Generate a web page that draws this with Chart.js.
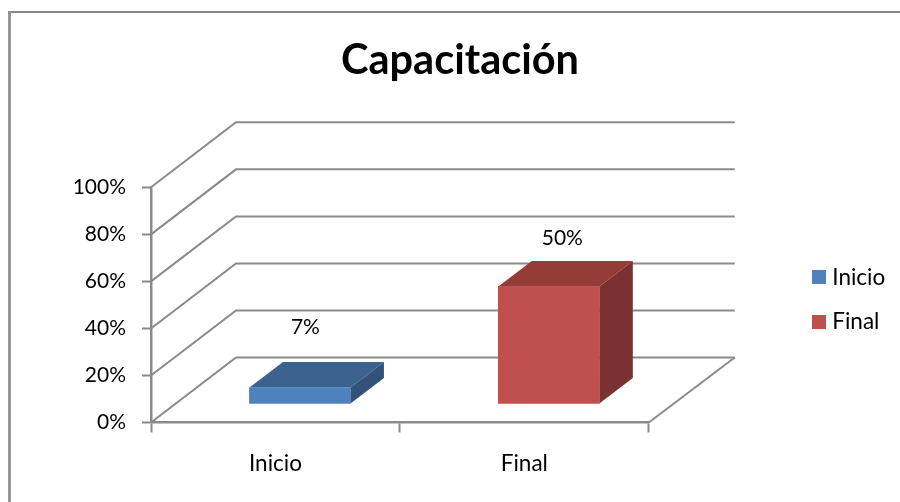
<!DOCTYPE html>
<html>
<head>
<meta charset="utf-8">
<title>Capacitación</title>
<script src="https://cdn.jsdelivr.net/npm/chart.js@4"></script>
<style>
    html, body { margin: 0; padding: 0; background: #fff; }
    canvas { display: block; }
</style>
</head>
<body>
<canvas id="chart" width="900" height="502"></canvas>
<script>
const categories = ["Inicio", "Final"];
const values = [7, 50];
const yTicks = [0, 20, 40, 60, 80, 100];

const frontColors = ["#4f81bd", "#c0504d"];
const topColors = ["#3c628f", "#953c39"];
const sideColors = ["#32527a", "#7b3130"];
const gridColor = "#8a8a8a";
const fontName = "Lato, Carlito, sans-serif";

// depth of the box the chart sits in, and of the bars inside it
const wallDepth = { x: 85, y: -65 };
const barDepth = { x: 33.5, y: -25.5 };
const barShift = { x: 24.5, y: -18.5 };
const labelShift = [{ x: 30, y: -79 }, { x: 38, y: -66.5 }];

function line(ctx, points) {
    ctx.beginPath();
    points.forEach((p, i) => i ? ctx.lineTo(p[0], p[1]) : ctx.moveTo(p[0], p[1]));
    ctx.stroke();
}

function face(ctx, points, color) {
    ctx.fillStyle = color;
    ctx.beginPath();
    points.forEach((p, i) => i ? ctx.lineTo(p[0], p[1]) : ctx.moveTo(p[0], p[1]));
    ctx.closePath();
    ctx.fill();
}

// legend swatch as an image, so the gap to the text does not grow with the font size
function swatch(color) {
    const c = document.createElement("canvas");
    c.width = 14;
    c.height = 14;
    const g = c.getContext("2d");
    g.fillStyle = color;
    g.fillRect(0, 0, 14, 14);
    return c;
}

const box3d = {
    id: "box3d",
    afterLayout(chart) {
        // legend and title keep their own fit, they just sit somewhere else than the layout wants
        const legend = chart.legend, title = chart.titleBlock;
        legend.left = 795; legend.right = legend.left + legend.width;
        legend.top = 244; legend.bottom = legend.top + legend.height;
        title.left = 0; title.right = 920;
    },
    beforeDraw(chart) {
        const ctx = chart.ctx;
        ctx.save();
        ctx.fillStyle = "#868686";
        ctx.fillRect(8, 11, 892, 2);
        ctx.fillStyle = "#969696";
        ctx.fillRect(8, 11, 3, 491);
        ctx.restore();
    },
    beforeDatasetsDraw(chart) {
        const ctx = chart.ctx, y = chart.scales.y, area = chart.chartArea;
        ctx.save();
        ctx.strokeStyle = gridColor;
        ctx.lineWidth = 2;
        yTicks.forEach(v => {
            const py = y.getPixelForValue(v);
            line(ctx, [
                [area.left, py],
                [area.left + wallDepth.x, py + wallDepth.y],
                [area.right + wallDepth.x + 1, py + wallDepth.y]
            ]);
        });
        const base = y.getPixelForValue(0);
        line(ctx, [[area.right, base], [area.right + wallDepth.x + 1, base + wallDepth.y]]);
        ctx.restore();
    },
    beforeDatasetDraw(chart, args) {
        const ctx = chart.ctx;
        ctx.save();
        ctx.translate(barShift.x, barShift.y);
        args.meta.data.forEach((bar, i) => {
            const l = bar.x - bar.width / 2, r = bar.x + bar.width / 2;
            const dx = barDepth.x, dy = barDepth.y;
            face(ctx, [[l, bar.y], [r, bar.y], [r + dx, bar.y + dy], [l + dx, bar.y + dy]], topColors[i]);
            face(ctx, [[r, bar.y], [r + dx, bar.y + dy], [r + dx, bar.base + dy], [r, bar.base]], sideColors[i]);
        });
    },
    afterDatasetDraw(chart) {
        chart.ctx.restore();
    },
    afterDatasetsDraw(chart) {
        const ctx = chart.ctx;
        ctx.save();
        ctx.fillStyle = "#000";
        ctx.font = "21px " + fontName;
        ctx.textAlign = "center";
        ctx.textBaseline = "middle";
        chart.getDatasetMeta(0).data.forEach((bar, i) => {
            ctx.fillText(values[i] + "%", bar.x + labelShift[i].x, bar.y + labelShift[i].y);
        });
        ctx.restore();
    }
};

new Chart(document.getElementById("chart"), {
    type: "bar",
    data: {
        labels: categories,
        datasets: [{
            data: values,
            backgroundColor: frontColors,
            barThickness: 101
        }]
    },
    options: {
        responsive: false,
        animation: false,
        layout: { padding: { right: 151 } },
        plugins: {
            tooltip: { enabled: false },
            title: {
                display: true,
                text: "Capacitación",
                color: "#000",
                font: { family: fontName, size: 41.5, weight: "bold" },
                padding: { top: 36, bottom: 101.5 }
            },
            legend: {
                position: "right",
                align: "start",
                labels: {
                    color: "#000",
                    font: { family: fontName, size: 22.5 },
                    usePointStyle: true,
                    pointStyleWidth: 4,
                    padding: 22,
                    generateLabels: () => categories.map((c, i) => ({
                        text: c,
                        pointStyle: swatch(frontColors[i]),
                        lineWidth: 0,
                        index: i
                    }))
                }
            }
        },
        scales: {
            x: {
                afterFit(s) { s.height = 79.5; },
                grid: { offset: true, drawOnChartArea: false, tickLength: 10, tickColor: gridColor, tickWidth: 2 },
                border: { color: gridColor, width: 2.5 },
                ticks: { color: "#000", font: { family: fontName, size: 22.5 }, padding: 18 }
            },
            y: {
                min: 0,
                max: 100,
                afterFit(s) { s.width = 151; },
                grid: { drawOnChartArea: false, tickLength: 9, tickColor: gridColor, tickWidth: 2 },
                border: { color: gridColor, width: 2.5 },
                ticks: {
                    color: "#000",
                    font: { family: fontName, size: 21 },
                    padding: 16,
                    stepSize: 20,
                    callback: v => v + "%"
                }
            }
        }
    },
    plugins: [box3d]
});
</script>
</body>
</html>
